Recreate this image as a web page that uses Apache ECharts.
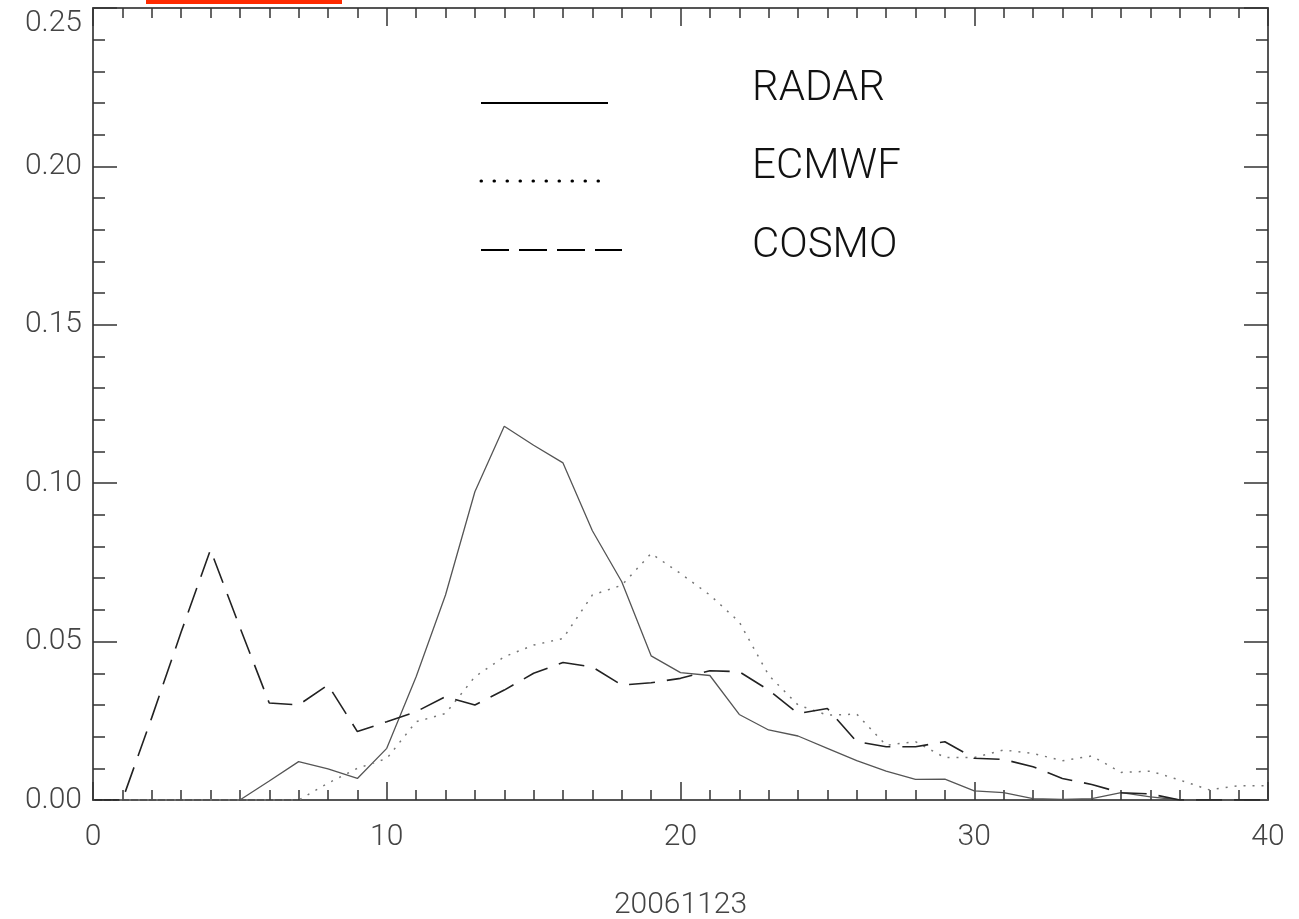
<!DOCTYPE html>
<html>
<head>
<meta charset="utf-8">
<script src="https://cdn.jsdelivr.net/npm/echarts@6/dist/echarts.min.js"></script>
<style>
  html,body{margin:0;padding:0;background:#fff;}
  #main{width:1299px;height:919px;}
</style>
</head>
<body>
<div id="main"></div>
<script>
// x = 0..40
var xs = [0,1,2,3,4,5,6,7,8,9,10,11,12,13,14,15,16,17,18,19,20,
          21,22,23,24,25,26,27,28,29,30,31,32,33,34,35,36,37,38,39,40];

var radar = [0,0,0,0,0,0,0.006,0.0121,0.0098,0.0068,0.0163,
             0.0389,0.0647,0.0973,0.118,0.112,0.1064,0.085,0.0689,0.0455,0.0402,
             0.0393,0.027,0.0221,0.0202,0.0163,0.0124,0.0091,0.0065,0.0066,0.0029,
             0.0023,0.0004,0.0002,0.0004,0.0023,0.001,0,0,0,0];

var ecmwf = [0,0,0,0,0,0,0,0,0.0053,0.01,0.0131,
             0.0247,0.0273,0.0389,0.0452,0.0489,0.051,0.0647,0.0678,0.0778,0.0715,
             0.0647,0.0562,0.0394,0.03,0.0268,0.0271,0.0173,0.0184,0.0134,0.0134,
             0.0158,0.0147,0.0124,0.0139,0.0087,0.0091,0.0063,0.0032,0.0045,0.0045];

var cosmo = [0,0,0.026,0.053,0.079,0.0545,0.0306,0.03,0.0363,0.0216,0.0247,
             0.0279,0.0326,0.03,0.0347,0.04,0.0434,0.042,0.0363,0.037,0.0384,
             0.0408,0.0405,0.0347,0.0273,0.0289,0.0184,0.0168,0.0168,0.0184,0.0132,
             0.0128,0.0105,0.0068,0.0049,0.0023,0.0019,0,0,0,0];

var seriesNames = ["RADAR","ECMWF","COSMO"];
var xTitle = "20061123";

var font = "Roboto";
var frameColor = "#555";

function pairs(ys){
  var out = [];
  for(var i = 0 , l = xs.length ; i < l ; i++){
    out.push([xs[i], ys[i]]);
  }
  return out;
}

// axis with inward ticks, used for all four sides
function frameAxis(pos, showLabel, isX){
  return {
    type:'value',
    position:pos,
    min:0,
    max:isX ? 40 : 0.25,
    interval:isX ? 10 : 0.05,
    axisLine:{show:true,onZero:false,lineStyle:{color:frameColor,width:2}},
    axisTick:{show:true,inside:true,length:isX ? 18 : 24,lineStyle:{color:'#333',width:1.5}},
    minorTick:{show:true,splitNumber:isX ? 10 : 5,length:isX ? 10 : 12,lineStyle:{color:'#333',width:1.5}},
    splitLine:{show:false},
    axisLabel:{
      show:showLabel,
      fontFamily:font,
      fontWeight:300,
      fontSize:30,
      color:'#444',
      margin:isX ? 22 : 11,
      verticalAlignMaxLabel:isX ? null : 'top',
      formatter:function(v){ return isX ? String(v) : v.toFixed(2); }
    }
  };
}

var chart = echarts.init(document.getElementById('main'));

var xBottom = frameAxis('bottom', true, true);
xBottom.name = xTitle;
xBottom.nameLocation = 'middle';
xBottom.nameGap = 90;
xBottom.nameTextStyle = {fontFamily:font,fontWeight:300,fontSize:30,color:'#444',verticalAlign:'top'};

var xTop = frameAxis('top', false, true);
var yLeft = frameAxis('left', true, false);
var yRight = frameAxis('right', false, false);

function lineSeries(name, ys, color, width, dash){
  return {
    name:name,
    type:'line',
    data:pairs(ys),
    symbol:'none',
    silent:true,
    lineStyle:{color:color,width:width,type:dash}
  };
}

// legend: a line sample left, label to the right
function legendItem(y, ty, text, dash, x2, w, cap){
  return [
    {type:'line',shape:{x1:481,y1:y,x2:x2,y2:y},
     style:{stroke:'#000',lineWidth:w,lineDash:dash,lineCap:cap}},
    {type:'text',x:752,y:ty,
     style:{text:text,fontFamily:font,fontWeight:300,fontSize:42,fill:'#111',
            verticalAlign:'middle'}}
  ];
}

var graphics = [
  {type:'rect',shape:{x:146,y:0,width:196,height:4},style:{fill:'#ff2a00'}}
]
.concat(legendItem(103, 89, seriesNames[0], null, 608, 2, 'butt'))
.concat(legendItem(181, 167, seriesNames[1], [0.5,12.5], 603, 3, 'round'))
.concat(legendItem(250, 246, seriesNames[2], [28,10], 622, 2, 'butt'));

chart.setOption({
  backgroundColor:'#fff',
  animation:false,
  grid:{left:93,right:31,top:8,bottom:119,outerBoundsMode:'none'},
  xAxis:[xBottom, xTop],
  yAxis:[yLeft, yRight],
  series:[
    lineSeries(seriesNames[0], radar, '#555', 1.3, 'solid'),
    lineSeries(seriesNames[1], ecmwf, '#777', 1.5, [2,7]),
    lineSeries(seriesNames[2], cosmo, '#222', 1.6, [26,12])
  ],
  graphic:graphics
});
</script>
</body>
</html>
